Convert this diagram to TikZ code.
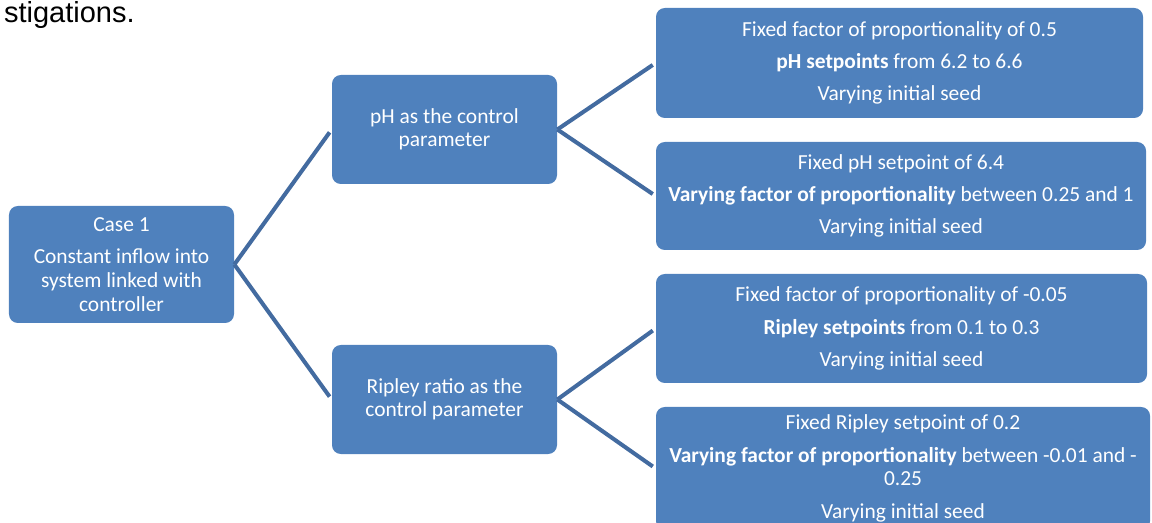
\documentclass[tikz,border=0pt]{standalone}
\usepackage{fontspec}
\setmainfont{Carlito}
\newfontfamily\arialfont{Liberation Sans}
\usepackage{tikz}

\definecolor{boxblue}{RGB}{79,129,189}
\definecolor{linkblue}{RGB}{67,107,160}

\begin{document}
\begin{tikzpicture}[
	box/.style={rectangle, rounded corners=5pt, fill=boxblue, text=white, align=center,
		font=\fontsize{12.2}{13.4}\selectfont, inner sep=2pt},
	link/.style={draw=linkblue, line width=2.3pt}
	]
	\useasboundingbox (0,0) rectangle (23.04,-10.46);
	\node[anchor=base east, inner sep=0pt, font=\arialfont\fontsize{16.5}{19}\selectfont] (tail) at (2.70,-0.455) {stigations.};

	\node[box, minimum width=4.5cm, minimum height=2.34cm] (case) at (2.43,-5.29) {Case 1\\[5pt]Constant inflow into\\system linked with\\controller};
	\node[box, minimum width=4.5cm, minimum height=2.18cm] (ph) at (8.89,-2.59) {pH as the control\\parameter};
	\node[box, minimum width=4.5cm, minimum height=2.18cm] (ripley) at (8.89,-7.99) {Ripley ratio as the\\control parameter};

	\node[box, minimum width=9.74cm, minimum height=2.2cm] (phsweep) at (17.99,-1.26) {Fixed factor of proportionality of 0.5\\[5pt]\textbf{pH setpoints} from 6.2 to 6.6\\[5pt]Varying initial seed};
	\node[box, minimum width=9.8cm, minimum height=2.16cm] (phgain) at (18.02,-3.92) {Fixed pH setpoint of 6.4\\[5pt]\textbf{Varying factor of proportionality} between 0.25 and 1\\[5pt]Varying initial seed};
	\node[box, minimum width=9.82cm, minimum height=2.18cm] (ripsweep) at (18.03,-6.57) {Fixed factor of proportionality of -0.05\\[5pt]\textbf{Ripley setpoints} from 0.1 to 0.3\\[5pt]Varying initial seed};
	\node[box, minimum width=9.88cm, minimum height=2.46cm] (ripgain) at (18.06,-9.37) {Fixed Ripley setpoint of 0.2\\[5pt]\textbf{Varying factor of proportionality} between -0.01 and -\\0.25\\[5pt]Varying initial seed};

	\draw[link, shorten >=2pt] (case.east) -- (ph.west);
	\draw[link, shorten >=2pt] (case.east) -- (ripley.west);
	\draw[link, shorten >=2pt] (ph.east) -- (phsweep.west);
	\draw[link, shorten >=2pt] (ph.east) -- (phgain.west);
	\draw[link, shorten >=2pt] (ripley.east) -- (ripsweep.west);
	\draw[link, shorten >=2pt] (ripley.east) -- (ripgain.west);
\end{tikzpicture}
\end{document}
